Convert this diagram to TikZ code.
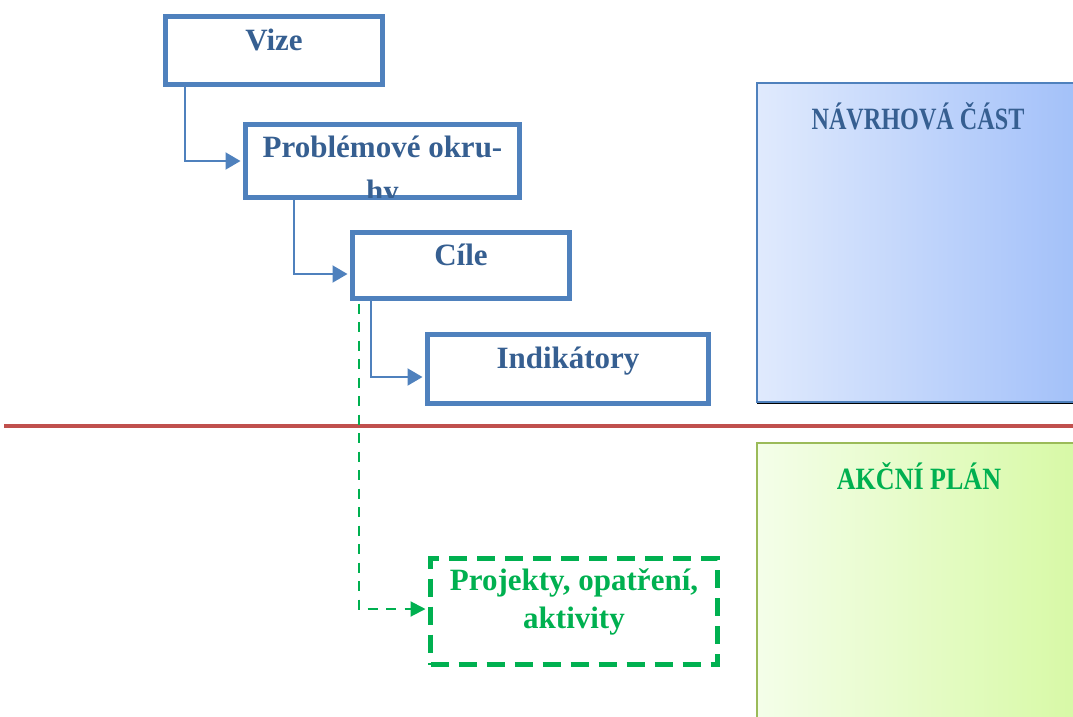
\documentclass[tikz,border=0pt]{standalone}
\usepackage{fontspec}
\setmainfont{Liberation Serif}
\usetikzlibrary{arrows.meta,calc}
\definecolor{boxblue}{HTML}{4F81BD}
\definecolor{txtblue}{HTML}{365F91}
\definecolor{dgreen}{HTML}{00B050}
\definecolor{redline}{HTML}{C0504D}
\definecolor{blueL}{HTML}{E0EAFD}
\definecolor{blueR}{HTML}{A2C0F9}
\definecolor{greenL}{HTML}{F4FEE9}
\definecolor{greenR}{HTML}{D7F9A5}
\definecolor{greenB}{HTML}{9BBB59}
\begin{document}
\begin{tikzpicture}[x=1pt,y=-1pt,
  stepbox/.style={draw=boxblue, line width=5pt, fill=white, rectangle, inner sep=0pt},
  boxtext/.style={text=txtblue, font=\bfseries\fontsize{31}{36}\selectfont, anchor=base, inner sep=0pt},
  headtext/.style={font=\bfseries\fontsize{31}{36}\selectfont, anchor=base, inner sep=0pt},
  conn/.style={draw=boxblue, line width=2pt, -{Triangle[length=15pt,width=17pt]}, shorten >=2.5pt},
  gconn/.style={draw=dgreen, line width=2pt, dash pattern=on 10pt off 8.5pt, -{Triangle[length=15pt,width=15pt]}, shorten >=2.5pt, shorten <=2.5pt},
  panel/.style={rectangle, line width=2pt, inner sep=0pt, anchor=north west, minimum width=324pt}]
\useasboundingbox (0,0) rectangle (1073,716);
% right panels
\fill[black] (757,400) rectangle (1073,404);
\node[panel, draw=boxblue, left color=blueL, right color=blueR, minimum height=319pt] (navrh) at (756,82) {};
\node[panel, draw=greenB, left color=greenL, right color=greenR, minimum height=280pt] (akcni) at (756,442) {};
\node[headtext, text=txtblue] (navrhT) at (918,129) {\scalebox{0.78}[1]{NÁVRHOVÁ ČÁST}};
\node[headtext, text=dgreen] (akcniT) at (919,489) {\scalebox{0.84}[1]{AKČNÍ PLÁN}};
% red divider
\coordinate (rl) at (4,426);
\coordinate (rr) at (1073,426);
\draw[redline, line width=4pt] (rl) -- (rr);
% boxes
\node[stepbox, minimum width=217pt, minimum height=68pt] (vize) at (274,50.5) {};
\node[stepbox, minimum width=274pt, minimum height=73pt] (prob) at (382.5,161) {};
\node[stepbox, minimum width=217pt, minimum height=66pt] (cile) at (461,265.5) {};
\node[stepbox, minimum width=281pt, minimum height=69pt] (ind) at (568,369) {};
\node[rectangle, draw=dgreen, line width=5pt, dash pattern=on 18pt off 10pt, inner sep=0pt, minimum width=287pt, minimum height=106pt] (proj) at (574,611.5) {};
% texts
\node[boxtext] (vizeT) at (274,50) {Vize};
\node[boxtext] (probT) at (382.5,157) {Problémové okru-};
\begin{scope}
  \clip ($(prob.north west)+(2.5,2.5)$) rectangle ($(prob.south east)+(-2.5,-2.5)$);
  \node[boxtext] (probT2) at (382.5,201) {hy};
\end{scope}
\node[boxtext] (cileT) at (461,265) {Cíle};
\node[boxtext] (indT) at (568,368) {Indikátory};
\node[boxtext, text=dgreen] (projT1) at (574,590) {Projekty, opatření,};
\node[boxtext, text=dgreen] (projT2) at (574,628) {aktivity};
% connectors
\draw[conn] ([xshift=21.5pt]vize.south west) |- (prob.west);
\draw[conn] ([xshift=50.5pt]prob.south west) |- ([yshift=-8.5pt]cile.west);
\draw[conn] ([xshift=20.5pt]cile.south west) |- ([yshift=-8pt]ind.west);
\draw[gconn] ([xshift=8.5pt]cile.south west) |- ([yshift=2.5pt]proj.west);
\end{tikzpicture}
\end{document}
